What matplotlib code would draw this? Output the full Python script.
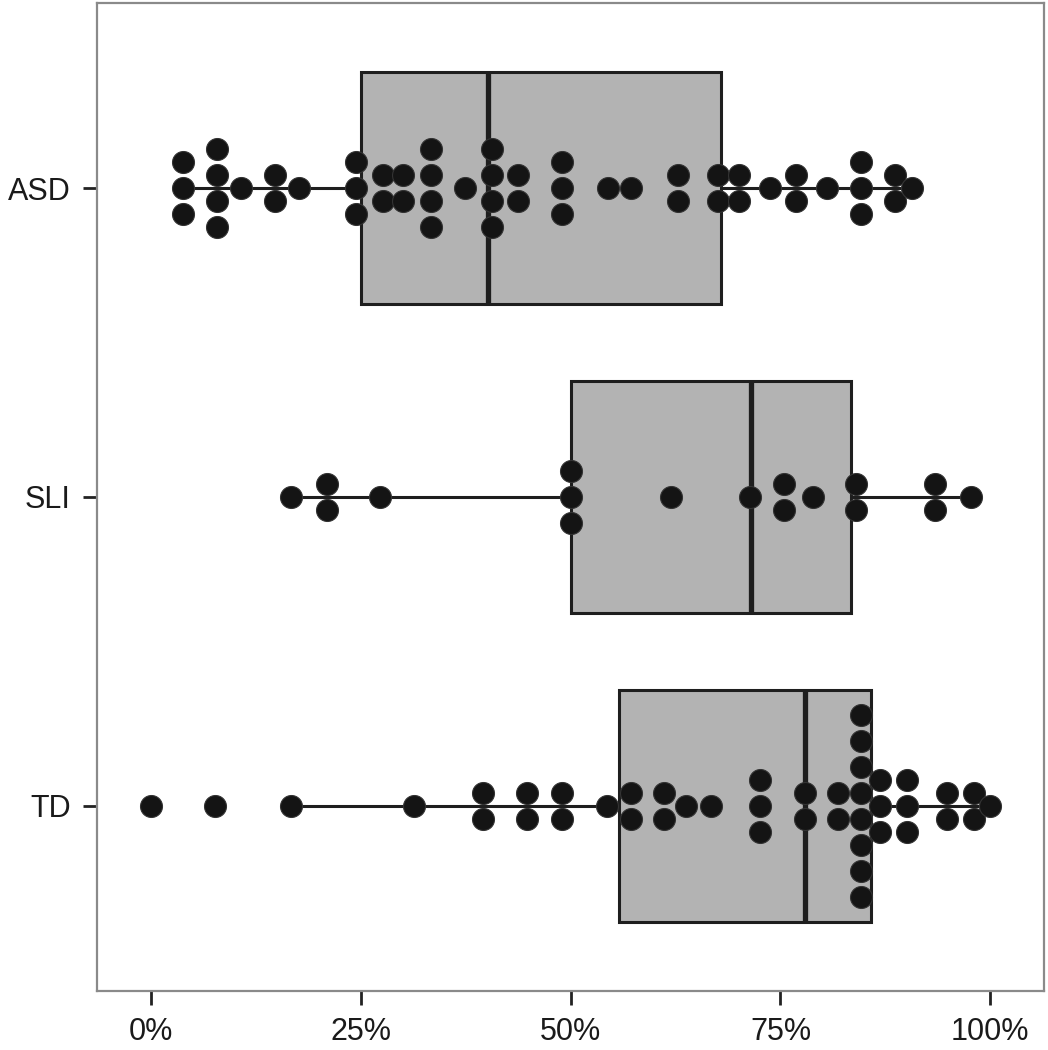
import matplotlib
matplotlib.use("Agg")
import matplotlib.pyplot as plt
import numpy as np

plt.rcParams['font.family'] = ['Liberation Sans', 'DejaVu Sans']

groups = ["TD", "SLI", "ASD"]  # bottom to top

# dot stacks: value (%) and number of stacked dots
asd_vals = [3.8, 7.9, 10.7, 14.8, 17.6, 24.4, 27.6, 30.0, 33.4, 37.4, 40.6, 43.7,
            49.0, 54.5, 57.2, 62.8, 67.5, 70.1, 73.7, 76.9, 80.5, 84.6, 88.6, 90.7]
asd_counts = [3, 4, 1, 2, 1, 3, 2, 2, 4, 1, 4, 2,
              3, 1, 1, 2, 2, 2, 1, 2, 1, 3, 2, 1]

sli_vals = [16.7, 21.0, 27.3, 50.0, 61.9, 71.4, 75.4, 78.9, 84.0, 93.4, 97.7]
sli_counts = [1, 2, 1, 3, 1, 1, 2, 1, 2, 2, 1]

td_vals = [0.0, 7.6, 16.7, 31.3, 39.5, 44.8, 49.0, 54.3, 57.2, 61.1, 63.8, 66.7,
           72.6, 77.9, 81.8, 84.6, 86.9, 90.1, 94.8, 98.0, 100.0]
td_counts = [1, 1, 1, 1, 2, 2, 2, 1, 2, 2, 1, 1,
             3, 2, 2, 8, 3, 3, 2, 2, 1]

# box statistics (%): whisker low, Q1, median, Q3, whisker high
box_stats = {
    "ASD": [3.8, 25.0, 40.2, 67.9, 90.7],
    "SLI": [16.7, 50.0, 71.5, 83.4, 97.7],
    "TD":  [16.7, 55.7, 77.9, 85.8, 100.0],
}

x_ticks = [0, 25, 50, 75, 100]
x_tick_labels = ["0%", "25%", "50%", "75%", "100%"]

dots = {"ASD": (asd_vals, asd_counts), "SLI": (sli_vals, sli_counts), "TD": (td_vals, td_counts)}

fig = plt.figure(figsize=(10.48, 10.5), dpi=100)
ax = fig.add_axes([97/1048, 1 - 991/1050, (1044-97)/1048, (991-3)/1050])

box_h = 0.75
spacing = 0.0842
dark = "#1e1e1e"

for i, g in enumerate(groups):
    ypos = i + 1
    lo, q1, med, q3, hi = box_stats[g]
    # whiskers
    ax.plot([lo, q1], [ypos, ypos], color=dark, lw=2.2, zorder=1, solid_capstyle='butt')
    ax.plot([q3, hi], [ypos, ypos], color=dark, lw=2.2, zorder=1, solid_capstyle='butt')
    # box
    rect = plt.Rectangle((q1, ypos - box_h/2), q3 - q1, box_h, facecolor="#b3b3b3",
                         edgecolor=dark, lw=2.2, zorder=2)
    ax.add_patch(rect)
    ax.plot([med, med], [ypos - box_h/2, ypos + box_h/2], color=dark, lw=3.8, zorder=3,
            solid_capstyle='butt')
    # dots
    vals, counts = dots[g]
    xs, ys = [], []
    for v, c in zip(vals, counts):
        for k in range(c):
            xs.append(v)
            ys.append(ypos + (k - (c - 1) / 2) * spacing)
    ax.scatter(xs, ys, s=250, color="#141414", edgecolors="#333333", linewidths=0.8, zorder=4)

ax.set_xlim(-6.44, 106.4)
ax.set_ylim(0.4, 3.6)
ax.set_xticks(x_ticks)
ax.set_xticklabels(x_tick_labels)
ax.set_yticks([1, 2, 3])
ax.set_yticklabels(groups)

for sp in ax.spines.values():
    sp.set_color("#8a8a8a")
    sp.set_linewidth(1.6)

ax.tick_params(axis='both', length=10, width=2, color="#222222", labelsize=22,
               labelcolor="#1a1a1a", pad=9)

fig.savefig("out.png", dpi=100)
